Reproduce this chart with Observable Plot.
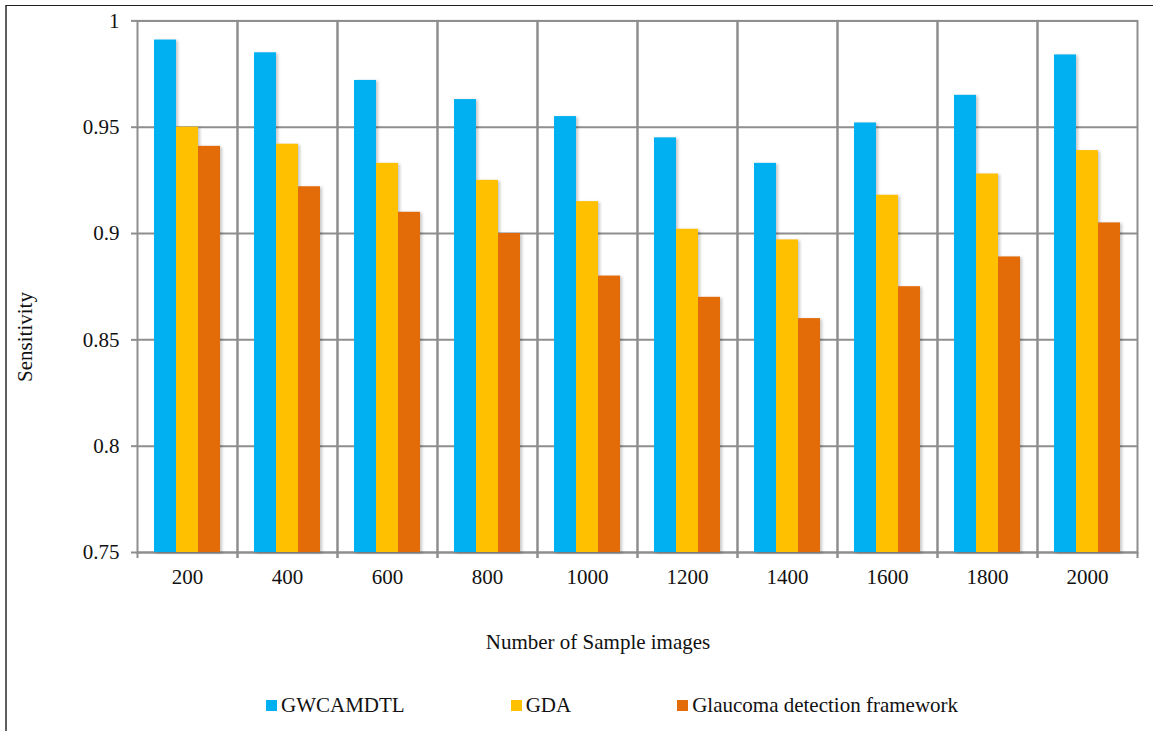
<!DOCTYPE html>
<html>
<head>
<meta charset="utf-8">
<script src="https://cdn.jsdelivr.net/npm/d3@7"></script>
<script src="https://cdn.jsdelivr.net/npm/@observablehq/plot@0.6"></script>
<style>
  body { margin: 0; background: #fff; }
  #chart {
    position: relative; width: 1153px; height: 731px; overflow: hidden;
    font-family: "Liberation Serif", "Times New Roman", serif; color: #111;
  }
  #chart svg { position: absolute; left: 0; top: 0; }
  #border {
    position: absolute; left: 5px; top: 5px; right: -10px; bottom: -10px;
    border-top: 1.5px solid #1e1e1e; border-left: 2px solid #5e5e5e; pointer-events: none;
  }
  .axis-title { position: absolute; font-size: 21px; line-height: 21px; white-space: nowrap; }
  #xtitle { left: 598px; top: 632px; transform: translateX(-50%); }
  #ytitle { left: 25px; top: 337px; transform: translate(-50%, -50%) rotate(-90deg); }
  #legend {
    position: absolute; left: 266px; top: 695px; display: flex; gap: 106px;
    font-size: 21px; line-height: 21px;
  }
  #legend .item { display: flex; align-items: center; gap: 4px; }
  #legend .sw { width: 11px; height: 11px; display: inline-block; }
  svg g[aria-label="bar"] { filter: drop-shadow(2px 1px 1.5px rgba(0, 0, 0, 0.22)); }
</style>
</head>
<body>
<div id="chart"><div id="border"></div></div>
<script>
// Number of sample images (x categories)
const sampleSizes = ["200", "400", "600", "800", "1000", "1200", "1400", "1600", "1800", "2000"];

// Methods compared
const seriesNames = ["GWCAMDTL", "GDA", "Glaucoma detection framework"];
const seriesColors = ["#00B0F0", "#FFC000", "#E36C09"];

// Sensitivity per method, one value per sample size
const gwcamdtl = [0.991, 0.985, 0.972, 0.963, 0.955, 0.945, 0.933, 0.952, 0.965, 0.984];
const gda = [0.950, 0.942, 0.933, 0.925, 0.915, 0.902, 0.897, 0.918, 0.928, 0.939];
const glaucomaFramework = [0.941, 0.922, 0.910, 0.900, 0.880, 0.870, 0.860, 0.875, 0.889, 0.905];

// Y axis
const yDomain = [0.75, 1];
const yTicks = [0.75, 0.8, 0.85, 0.9, 0.95, 1];
const xTitle = "Number of Sample images";
const yTitle = "Sensitivity";

const seriesValues = [gwcamdtl, gda, glaucomaFramework];
const rows = sampleSizes.flatMap((size, i) =>
  seriesNames.map((series, j) => ({ size, series, value: seriesValues[j][i] }))
);

const W = 1153, H = 690;
const marginLeft = 137, marginRight = 16, marginTop = 20.4, marginBottom = 138;
const bandWidth = (W - marginLeft - marginRight) / sampleSizes.length;
const gridColor = "#8e8e8e";
const fmt = d => String(+d.toFixed(2));

const chart = Plot.plot({
  width: W,
  height: H,
  marginLeft, marginRight, marginTop, marginBottom,
  style: {
    fontFamily: "'Liberation Serif', 'Times New Roman', serif",
    fontSize: "21px",
    color: "#111",
    background: "transparent",
    overflow: "visible"
  },
  fx: { domain: sampleSizes, padding: 0, label: null },
  x: { domain: seriesNames, paddingInner: 0, paddingOuter: 0.75, axis: null },
  y: { domain: yDomain, axis: null },
  color: { domain: seriesNames, range: seriesColors },
  marks: [
    Plot.gridY(yTicks, { stroke: gridColor, strokeOpacity: 1, strokeWidth: 2 }),
    Plot.frame({ stroke: gridColor, strokeWidth: 2 }),
    Plot.barY(rows, { fx: "size", x: "series", y1: yDomain[0], y2: "value", fill: "series" }),
    Plot.axisY(yTicks, {
      tickFormat: fmt, tickSize: 6, tickPadding: 12,
      stroke: gridColor, strokeWidth: 2, label: null
    }),
    Plot.axisFx({ anchor: "bottom", tickSize: 0, tickPadding: 17, label: null }),
    // tick marks on the category boundaries
    Plot.axisFx({ anchor: "bottom", tickSize: 6, tickFormat: () => "", dx: -bandWidth / 2, stroke: gridColor, strokeWidth: 2, label: null }),
    Plot.axisFx({ anchor: "bottom", tickSize: 6, tickFormat: () => "", dx: bandWidth / 2, stroke: gridColor, strokeWidth: 2, label: null })
  ]
});

const root = document.getElementById("chart");
root.appendChild(chart);

const xt = document.createElement("div");
xt.className = "axis-title"; xt.id = "xtitle"; xt.textContent = xTitle;
root.appendChild(xt);

const yt = document.createElement("div");
yt.className = "axis-title"; yt.id = "ytitle"; yt.textContent = yTitle;
root.appendChild(yt);

const legend = document.createElement("div");
legend.id = "legend";
seriesNames.forEach((name, i) => {
  const item = document.createElement("div");
  item.className = "item";
  const sw = document.createElement("span");
  sw.className = "sw";
  sw.style.background = seriesColors[i];
  const label = document.createElement("span");
  label.textContent = name;
  item.append(sw, label);
  legend.appendChild(item);
});
root.appendChild(legend);
</script>
</body>
</html>
